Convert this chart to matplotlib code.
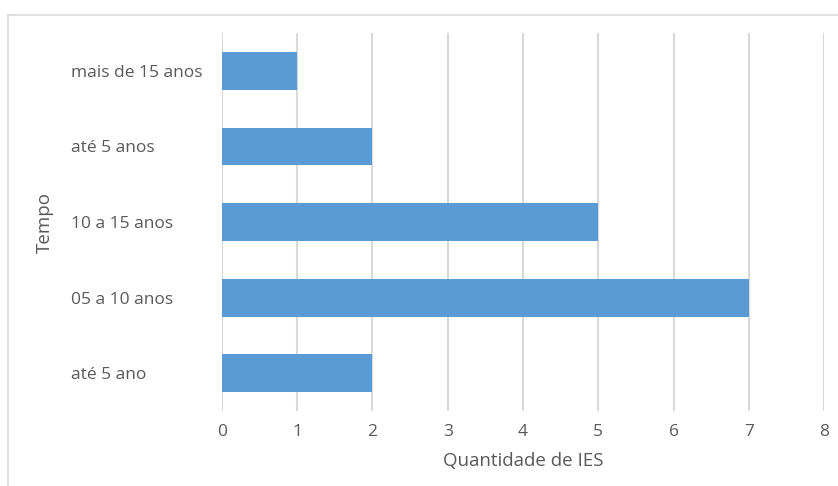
import matplotlib.pyplot as plt
from matplotlib.lines import Line2D

categories = ["até 5 ano", "05 a 10 anos", "10 a 15 anos", "até 5 anos", "mais de 15 anos"]
counts = [2, 7, 5, 2, 1]
x_ticks = [0, 1, 2, 3, 4, 5, 6, 7, 8]

plt.rcParams['font.family'] = ['Open Sans', 'DejaVu Sans']

fig = plt.figure(figsize=(8.38, 4.86), dpi=100)
ax = fig.add_axes([0.2649, 0.1543, 0.7184, 0.7778])

# outer chart-area frame (top and left edges only)
fig.add_artist(Line2D([8 / 838, 8 / 838], [0, 1 - 15 / 486], transform=fig.transFigure,
                      color='#d9d9d9', lw=1.2))
fig.add_artist(Line2D([8 / 838, 1], [1 - 15 / 486, 1 - 15 / 486], transform=fig.transFigure,
                      color='#d9d9d9', lw=1.2))

y = range(len(categories))
ax.barh(y, counts, height=0.5, color='#5b9bd5', zorder=3)

ax.set_xlim(0, 8)
ax.set_ylim(-0.5, len(categories) - 0.5)
ax.set_xticks(x_ticks)
ax.set_xticklabels([str(t) for t in x_ticks])
ax.set_yticks(list(y))
ax.set_yticklabels(categories, ha='left')

ax.grid(axis='x', color='#d9d9d9', lw=1.5, zorder=0)
for s in ax.spines.values():
    s.set_visible(False)
ax.tick_params(axis='both', length=0, colors='#595959', labelsize=12.5)
ax.tick_params(axis='y', pad=109)
ax.tick_params(axis='x', pad=9)

ax.set_xlabel("Quantidade de IES", color='#595959', fontsize=13.5, labelpad=9)
ax.set_ylabel("Tempo", color='#595959', fontsize=13.5)
ax.yaxis.set_label_coords(-0.28, 0.5)

fig.savefig("out.png", dpi=100)
